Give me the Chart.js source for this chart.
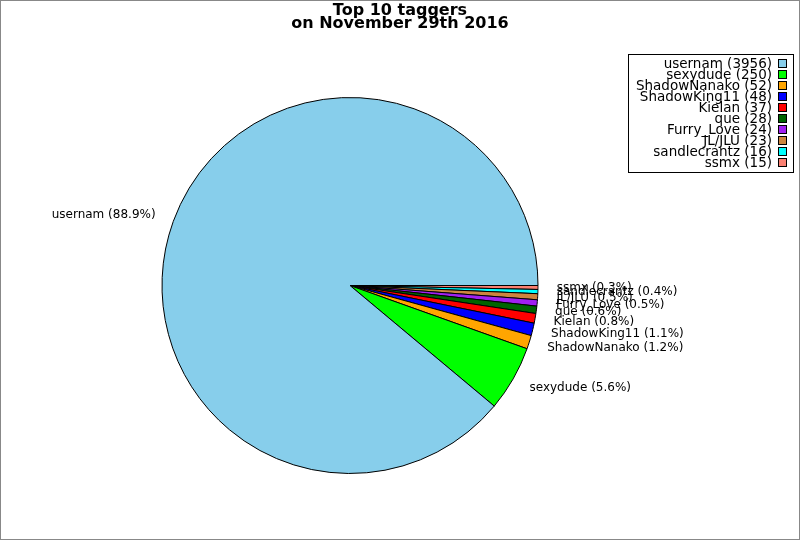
<!DOCTYPE html>
<html>
<head>
<meta charset="utf-8">
<script src="https://cdn.jsdelivr.net/npm/chart.js@4"></script>
<style>
  html, body { margin: 0; padding: 0; background: #fff; }
  #wrap { position: relative; width: 800px; height: 540px; }
  #frame { position: absolute; left: 0; top: 0; width: 798px; height: 538px; border: 1px solid #888; pointer-events: none; }
</style>
</head>
<body>
<div id="wrap">
  <canvas id="chartTaggers" width="800" height="540"></canvas>
  <div id="frame"></div>
</div>
<script>
const titleLines = ["Top 10 taggers", "on November 29th 2016"];
const taggers = ["usernam", "sexydude", "ShadowNanako", "ShadowKing11", "Kielan", "que", "Furry_Love", "JL/JLU", "sandlecrantz", "ssmx"];
const tagCounts = [3956, 250, 52, 48, 37, 28, 24, 23, 16, 15];
const sliceColors = ["#87CEEB", "#00FF00", "#FFA500", "#0000FF", "#FF0000", "#006400", "#A020F0", "#CD853F", "#00FFFF", "#FA8072"];

const total = tagCounts.reduce((a, b) => a + b, 0);

// slices run counter-clockwise from 3 o'clock, so feed them reversed and go clockwise
const order = taggers.map((_, i) => i).reverse();

const decorations = {
  id: "decorations",
  afterDraw(chart) {
    const c = chart.ctx;
    c.save();

    // title
    c.fillStyle = "#000";
    c.textAlign = "center";
    c.textBaseline = "middle";
    c.font = "bold 16px 'DejaVu Sans'";
    c.fillText(titleLines[0], 400, 11);
    c.fillText(titleLines[1], 400, 24);

    // slice labels outside the pie
    const meta = chart.getDatasetMeta(0);
    c.font = "12px 'DejaVu Sans'";
    meta.data.forEach((arc, j) => {
      const p = arc.getProps(["x", "y", "startAngle", "endAngle", "outerRadius"], true);
      const mid = (p.startAngle + p.endAngle) / 2;
      const r = p.outerRadius * 1.1;
      const x = p.x + Math.cos(mid) * r;
      const y = p.y + Math.sin(mid) * r;
      const i = order[j];
      const pct = (tagCounts[i] / total * 100).toFixed(1);
      c.textAlign = Math.cos(mid) >= 0 ? "left" : "right";
      c.fillText(taggers[i] + " (" + pct + "%)", x, y);
    });

    // legend box
    c.fillStyle = "#fff";
    c.fillRect(628.5, 54.5, 165, 118);
    c.strokeStyle = "#000";
    c.lineWidth = 1;
    c.strokeRect(628.5, 54.5, 165, 118);
    c.textAlign = "right";
    c.font = "13.5px 'DejaVu Sans'";
    taggers.forEach((name, i) => {
      const y = 64 + i * 11;
      c.fillStyle = "#000";
      c.fillText(name + " (" + tagCounts[i] + ")", 772, y);
      c.fillStyle = sliceColors[i];
      c.fillRect(778.5, y - 4.5, 8, 8);
      c.strokeRect(778.5, y - 4.5, 8, 8);
    });

    c.restore();
  },
};

new Chart(document.getElementById("chartTaggers"), {
  type: "pie",
  data: {
    labels: order.map((i) => taggers[i]),
    datasets: [
      {
        data: order.map((i) => tagCounts[i]),
        backgroundColor: order.map((i) => sliceColors[i]),
        borderColor: "#000",
        borderWidth: 1,
      },
    ],
  },
  options: {
    responsive: false,
    animation: false,
    rotation: 90,
    layout: { padding: { left: 161.5, right: 261.5, top: 97, bottom: 66 } },
    plugins: { legend: { display: false }, title: { display: false }, tooltip: { enabled: false } },
  },
  plugins: [decorations],
});
</script>
</body>
</html>
